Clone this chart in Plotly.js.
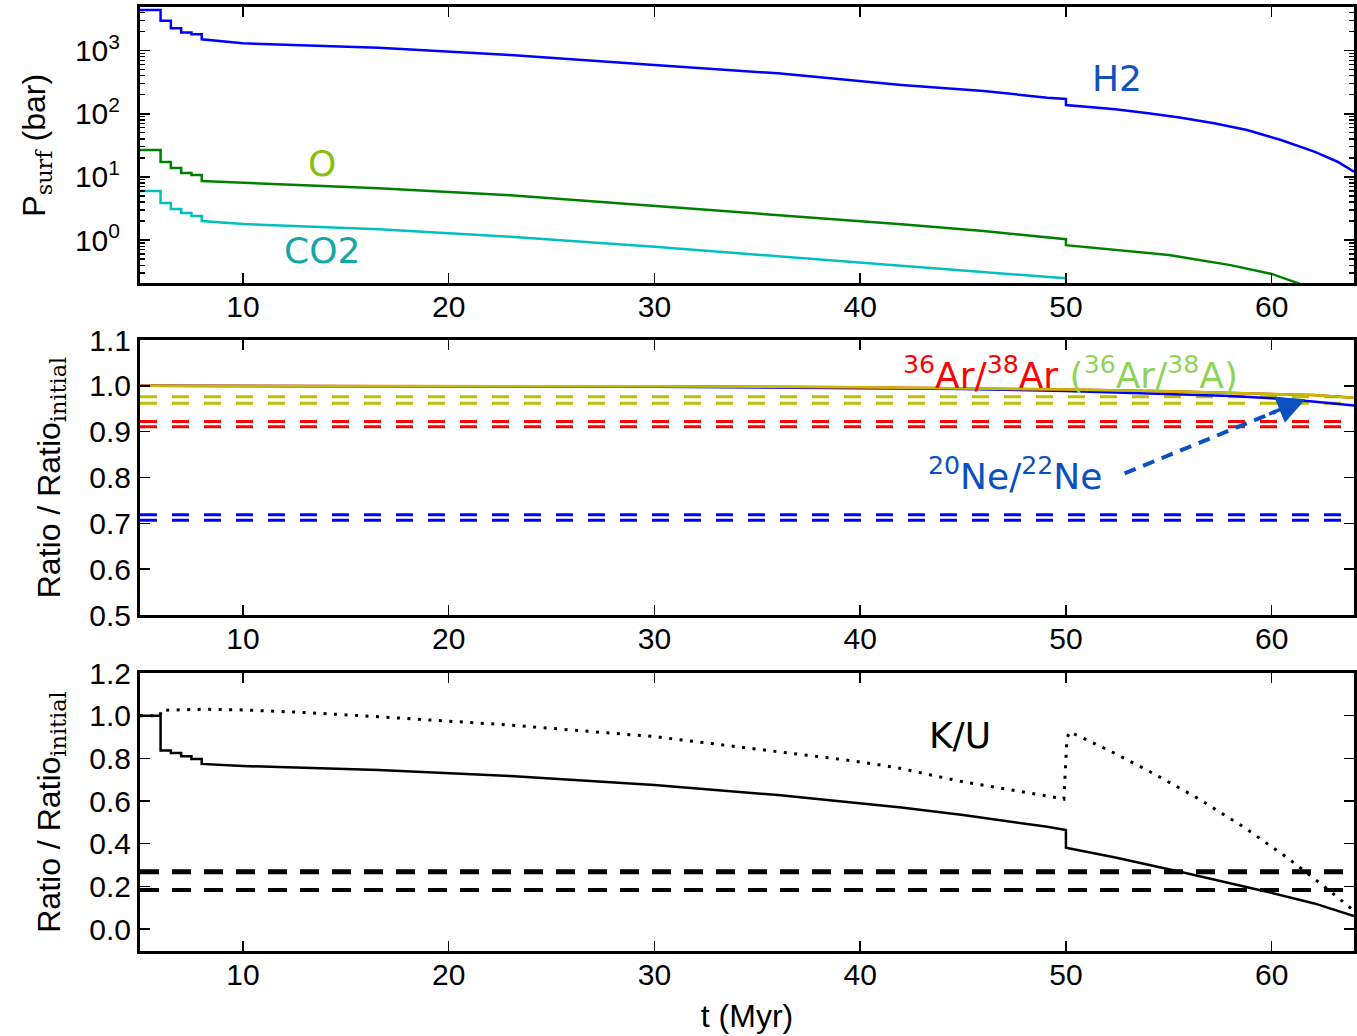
<!DOCTYPE html>
<html>
<head>
<meta charset="utf-8">
<script src="https://cdn.plot.ly/plotly-3.0.1.min.js"></script>
<style>html,body{margin:0;padding:0;background:#fff;}#chart{width:1357px;height:1036px;}</style>
</head>
<body>
<div id="chart"></div>
<script>
// ---------- Top panel: surface pressures (bar) ----------
const tH2 = [5, 6, 6, 6.5, 6.5, 7, 7, 7.5, 7.5, 8, 8, 10, 16.6, 20, 23, 30, 36, 42, 46, 49.1, 50, 50, 52.4, 54, 55.6, 57.2, 58.8, 60.45, 62.07, 63.2, 64];
const pH2 = [4410, 4410, 2990, 2990, 2260, 2260, 1950, 1950, 1820, 1820, 1515, 1310, 1115, 957, 855, 593, 438, 286, 230, 180, 172, 138, 118, 102, 86.7, 71, 55.3, 38.5, 25.1, 17.4, 12.1];

const tO = [5, 6, 6, 6.5, 6.5, 7, 7, 7.5, 7.5, 8, 8, 10, 16.6, 23, 30, 36, 42, 46, 50, 50, 55, 58, 60, 61.3, 62];
const pO = [26.7, 26.7, 17.2, 17.2, 13.8, 13.8, 11.5, 11.5, 10.7, 10.7, 8.6, 8.1, 6.6, 5.1, 3.46, 2.49, 1.78, 1.39, 1.03, 0.83, 0.58, 0.40, 0.29, 0.206, 0.17];

const tCO2 = [5, 6, 6, 6.5, 6.5, 7, 7, 7.5, 7.5, 8, 8, 10, 16.6, 23, 30, 36, 42, 46, 50];
const pCO2 = [5.98, 5.98, 3.85, 3.85, 3.1, 3.1, 2.68, 2.68, 2.4, 2.4, 2.0, 1.79, 1.48, 1.13, 0.78, 0.557, 0.39, 0.31, 0.247];

const logTickVals = [1, 10, 100, 1000];
const logTickText = ['10<sup>0</sup>', '10<sup>1</sup>', '10<sup>2</sup>', '10<sup>3</sup>'];
const logMinorVals = [0.3,0.4,0.5,0.6,0.7,0.8,0.9, 2,3,4,5,6,7,8,9, 20,30,40,50,60,70,80,90, 200,300,400,500,600,700,800,900, 2000,3000,4000];

// ---------- Middle panel: noble-gas isotope ratios ----------
const tRatio = [5, 20, 30, 40, 45, 50, 55, 60, 62, 64];
const arAltRatio = [1.0, 1.0, 0.999, 0.997, 0.995, 0.992, 0.988, 0.983, 0.980, 0.974];
const arRatio = [1.0, 1.0, 0.999, 0.997, 0.995, 0.992, 0.988, 0.983, 0.980, 0.974];
const tNe = [5, 20, 30, 40, 45, 50, 55, 58, 60, 62, 64];
const neRatio = [1.0, 0.9995, 0.998, 0.995, 0.993, 0.989, 0.983, 0.978, 0.973, 0.966, 0.957];
const tSpan = [5, 64];
const arAltLimits = [0.976, 0.962];
const arLimits = [0.922, 0.911];
const neLimits = [0.719, 0.707];

// ---------- Bottom panel: K/U ----------
const tKU = [5, 6, 6, 6.5, 6.5, 7, 7, 7.5, 7.5, 8, 8, 10, 16.6, 23, 30, 36, 42, 45, 49.1, 50, 50, 52.4, 55.6, 59.5, 62.07, 64];
const kuSolid = [1.0, 1.0, 0.837, 0.837, 0.825, 0.825, 0.81, 0.81, 0.797, 0.797, 0.774, 0.764, 0.745, 0.717, 0.675, 0.628, 0.57, 0.534, 0.479, 0.464, 0.381, 0.335, 0.267, 0.181, 0.12, 0.061];
const tKUdot = [5, 6, 6, 8, 10, 13, 16.6, 23, 30, 36, 39.5, 41.7, 45, 49.3, 49.9, 50.05, 50.18, 52.12, 54.0, 56.3, 58.56, 60.71, 62.81, 64];
const kuDotted = [1.0, 1.0, 1.025, 1.03, 1.027, 1.015, 0.995, 0.956, 0.902, 0.83, 0.79, 0.758, 0.69, 0.62, 0.609, 0.894, 0.925, 0.836, 0.742, 0.619, 0.483, 0.338, 0.18, 0.085];
const kuLimits = [0.269, 0.183];

const xTicks = [10, 20, 30, 40, 50, 60];

const W = 1357, H = 1036;
const fontAxis = {family: 'Liberation Sans, Arial, sans-serif', size: 30, color: '#000'};
const fontTitle = {family: 'Liberation Sans, Arial, sans-serif', size: 32, color: '#000'};
const fontLbl = 'DejaVu Sans, sans-serif';

function line(x, y, color, width, dash, xa, ya) {
  return {x: x, y: y, type: 'scatter', mode: 'lines', xaxis: xa, yaxis: ya,
          line: {color: color, width: width, dash: dash || 'solid'}, hoverinfo: 'skip', showlegend: false};
}

const traces = [
  line(tH2, pH2, '#0000ff', 2.5, null, 'x', 'y'),
  line(tO, pO, '#008000', 2.5, null, 'x', 'y'),
  line(tCO2, pCO2, '#00bfbf', 2.5, null, 'x', 'y'),

  line(tSpan, [neLimits[0], neLimits[0]], '#0000ff', 3, '17px,15px', 'x2', 'y2'),
  line(tSpan, [neLimits[1], neLimits[1]], '#0000ff', 3, '17px,15px', 'x2', 'y2'),
  line(tSpan, [arLimits[0], arLimits[0]], '#ff0000', 3, '17px,15px', 'x2', 'y2'),
  line(tSpan, [arLimits[1], arLimits[1]], '#ff0000', 3, '17px,15px', 'x2', 'y2'),
  line(tSpan, [arAltLimits[0], arAltLimits[0]], '#bfbf00', 3, '17px,15px', 'x2', 'y2'),
  line(tSpan, [arAltLimits[1], arAltLimits[1]], '#bfbf00', 3, '17px,15px', 'x2', 'y2'),
  line(tNe, neRatio, '#0000ff', 2.5, null, 'x2', 'y2'),
  line(tRatio, arRatio, '#ff0000', 2.5, null, 'x2', 'y2'),
  line(tRatio, arAltRatio, '#bfbf00', 2.5, null, 'x2', 'y2'),

  line(tSpan, [kuLimits[0], kuLimits[0]], '#000000', 5, '19px,13px', 'x3', 'y3'),
  line(tSpan, [kuLimits[1], kuLimits[1]], '#000000', 4, '19px,13px', 'x3', 'y3'),
  line(tKU, kuSolid, '#000000', 2.5, null, 'x3', 'y3'),
  line(tKUdot, kuDotted, '#000000', 3, '3px,7.5px', 'x3', 'y3')
];

const xDom = [140 / W, 1354 / W];
function yDom(top, bottom) { return [1 - bottom / H, 1 - top / H]; }

function xAxis(anchor, title) {
  const a = {
    domain: xDom, anchor: anchor, range: [5, 64],
    showline: true, linewidth: 3, linecolor: '#000', mirror: 'ticks',
    ticks: 'inside', ticklen: 10, tickwidth: 1.5, tickcolor: '#000',
    tickmode: 'array', tickvals: xTicks, tickfont: fontAxis, ticklabelstandoff: -5,
    showgrid: false, zeroline: false, fixedrange: true
  };
  if (title) a.title = {text: title, font: fontTitle, standoff: 15};
  return a;
}
function yAxisLin(anchor, dom, range, dtick, title) {
  return {
    domain: dom, anchor: anchor, range: range,
    showline: true, linewidth: 3, linecolor: '#000', mirror: 'ticks',
    ticks: 'inside', ticklen: 10, tickwidth: 1.5, tickcolor: '#000',
    dtick: dtick, tick0: 0, tickformat: '.1f', tickfont: fontAxis,
    showgrid: false, zeroline: false, fixedrange: true,
    title: {text: title, font: fontTitle, standoff: 20}
  };
}

const ratioTitle = 'Ratio / Ratio<sub><span style="font-family:\'DejaVu Serif\'">initial</span></sub>';

const layout = {
  width: W, height: H,
  margin: {l: 0, r: 0, t: 0, b: 0},
  paper_bgcolor: '#fff', plot_bgcolor: '#fff',
  showlegend: false,
  xaxis: xAxis('y'),
  xaxis2: xAxis('y2'),
  xaxis3: xAxis('y3', 't (Myr)'),
  yaxis: {
    domain: yDom(7.3, 283.3), anchor: 'x', type: 'log', range: [-0.686, 3.688],
    showline: true, linewidth: 3, linecolor: '#000', mirror: 'ticks',
    ticks: 'inside', ticklen: 10, tickwidth: 1.5, tickcolor: '#000',
    tickmode: 'array', tickvals: logTickVals, ticktext: logTickText, tickfont: fontAxis, ticklabelstandoff: 11,
    minor: {ticks: 'inside', ticklen: 5, tickwidth: 1.2, tickcolor: '#000', tickmode: 'array', tickvals: logMinorVals, showgrid: false},
    showgrid: false, zeroline: false, fixedrange: true,
    title: {text: 'P<sub><span style="font-family:\'DejaVu Serif\'">surf</span></sub> (bar)', font: fontTitle, standoff: 20}
  },
  yaxis2: yAxisLin('x2', yDom(340, 615), [0.5, 1.1], 0.1, ratioTitle),
  yaxis3: yAxisLin('x3', yDom(673, 951), [-0.103, 1.2], 0.2, ratioTitle),
  shapes: [
    {type: 'line', xref: 'x2', yref: 'y2', x0: 52.85, y0: 0.809, x1: 60.2, y1: 0.944,
     line: {color: '#0a50c0', width: 4, dash: '12px,8px'}}
  ],
  annotations: [
    {xref: 'x', yref: 'y', x: 52.5, y: 2.567, text: 'H2', showarrow: false,
     font: {family: fontLbl, size: 36, color: '#1550c0'}},
    {xref: 'x', yref: 'y', x: 13.83, y: 1.22, text: 'O', showarrow: false,
     font: {family: fontLbl, size: 36, color: '#86bf12'}},
    {xref: 'x', yref: 'y', x: 13.83, y: -0.174, text: 'CO2', showarrow: false,
     font: {family: fontLbl, size: 36, color: '#17a6a6'}},
    {xref: 'x2', yref: 'y2', x: 42.0, y: 1.027, xanchor: 'left', yanchor: 'middle', showarrow: false,
     text: '<span style="color:#ff0000"><sup>36</sup>Ar/<sup>38</sup>Ar</span> <span style="color:#8fd45a">(<sup>36</sup>Ar/<sup>38</sup>A)</span>',
     font: {family: fontLbl, size: 36, color: '#ff0000'}},
    {xref: 'x2', yref: 'y2', x: 43.2, y: 0.808, xanchor: 'left', yanchor: 'middle', showarrow: false,
     text: '<sup>20</sup>Ne/<sup>22</sup>Ne',
     font: {family: fontLbl, size: 36, color: '#0a50c0'}},
    {xref: 'x2', yref: 'y2', axref: 'x2', ayref: 'y2', x: 61.64, y: 0.971, ax: 59.8, ay: 0.937,
     text: '', showarrow: true, arrowhead: 2, arrowsize: 1.6, arrowwidth: 3.5, arrowcolor: '#0a50c0'},
    {xref: 'x3', yref: 'y3', x: 44.86, y: 0.909, text: 'K/U', showarrow: false,
     font: {family: fontLbl, size: 36, color: '#000'}}
  ]
};

Plotly.newPlot('chart', traces, layout, {displayModeBar: false, staticPlot: true});
</script>
</body>
</html>
